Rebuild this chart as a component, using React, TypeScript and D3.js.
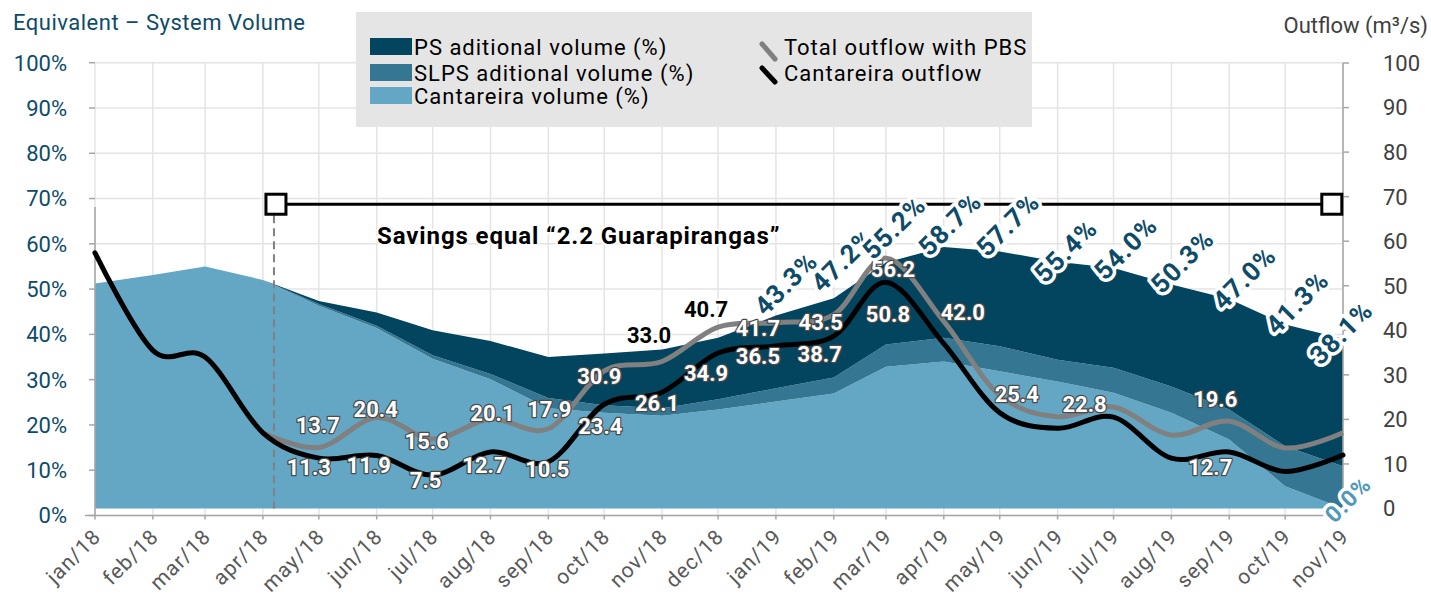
import React from "react";
import * as d3 from "d3";

// ---------------- DATA ----------------
const monthLabels = [
  "jan/18", "feb/18", "mar/18", "apr/18", "may/18", "jun/18", "jul/18", "aug/18",
  "sep/18", "oct/18", "nov/18", "dec/18", "jan/19", "feb/19", "mar/19", "apr/19",
  "may/19", "jun/19", "jul/19", "aug/19", "sep/19", "oct/19", "nov/19",
];
// Stacked volumes (% of equivalent system)
const cantareiraVolume = [50.5, 52.4, 54.3, 51.3, 45.5, 40.5, 33.6, 29.0, 22.5, 21.5, 20.8, 22.2, 24.0, 25.8, 31.8, 33.0, 30.8, 28.5, 26.0, 21.5, 15.5, 5.0, 0.0];
const slpsAdditionalVolume = [0, 0, 0, 0, 0.4, 0.5, 0.8, 1.2, 2.3, 1.7, 1.7, 2.3, 3.0, 3.6, 5.0, 5.3, 5.6, 4.9, 5.6, 5.9, 6.7, 9.0, 9.5];
const psAdditionalVolume = [0, 0, 0, 0, 0.7, 3.0, 5.6, 7.4, 9.2, 11.6, 13.2, 13.8, 16.3, 17.8, 18.4, 20.4, 21.3, 22.0, 22.4, 22.9, 24.8, 27.3, 28.6];
// Outflows (m³/s)
const cantareiraOutflow = [57.4, 35.5, 34.0, 17.0, 11.3, 11.9, 7.5, 12.7, 10.5, 23.4, 26.1, 34.9, 36.5, 38.7, 50.8, 37.0, 21.5, 18.0, 20.5, 11.3, 12.7, 8.3, 12.0];
const totalOutflowPBS: (number | null)[] = [null, null, null, 17.0, 13.7, 20.4, 15.6, 20.1, 17.9, 30.9, 33.0, 40.7, 41.7, 43.5, 56.2, 42.0, 25.4, 20.6, 22.8, 16.5, 19.6, 13.6, 17.0];
const leftTicks = [0, 10, 20, 30, 40, 50, 60, 70, 80, 90, 100];
const rightTicks = [0, 10, 20, 30, 40, 50, 60, 70, 80, 90, 100];
const savingsStartDate = new Date(2018, 3, 8);
const savingsEndDate = new Date(2019, 9, 26);
const savingsLevel = 68.3;
const savingsText = "Savings equal “2.2 Guarapirangas”";
const totalLabelMonths = [12, 13, 14, 15, 16, 17, 18, 19, 20, 21, 22];
const grayLabelMonths = [4, 5, 6, 7, 8, 9, 10, 11, 12, 13, 14, 15, 16, 18, 20];
const blackLabelMonths = [4, 5, 6, 7, 8, 9, 10, 11, 12, 13, 14, 20];

// ---------------- LAYOUT ----------------
const W = 1431, H = 597;
const X0 = 95, X1 = 1343;
const FONT = "Roboto, 'DejaVu Sans', sans-serif";
const C_PS = "#03445f";
const C_SLPS = "#357692";
const C_CANT = "#64a7c4";
const C_TEAL = "#0d4b69";

// label nudges (dx, dy) relative to the data point: [centre x offset, baseline offset]
const grayNudge: Record<number, [number, number]> = {
  4: [-1, -14], 5: [-1, -1], 6: [-6, 10], 7: [2, 2], 8: [1, -12], 9: [-5, 13],
  10: [-13, -18], 11: [-12, -10], 12: [-18, 13], 13: [-13, 15], 14: [7, 19],
  15: [19, -1], 16: [17, 7], 18: [-29, 5], 20: [-14, -14],
};
const blackNudge: Record<number, [number, number]> = {
  4: [-10, 17], 5: [-8, 18], 6: [-7, 13], 7: [-6, 21], 8: [-1, 15], 9: [-4, 30],
  10: [-5, 19], 11: [-12, 28], 12: [-18, 18], 13: [-14, 26], 14: [2, 40], 20: [-19, 23],
};
const totalNudge: Record<number, [number, number]> = {
  12: [10, -32], 13: [9, -38], 14: [8, -35], 15: [6, -23], 16: [8, -27], 17: [8, -11],
  18: [12, -20], 19: [11, -23], 20: [15, -21], 21: [12, -22], 22: [-2, -6],
};

export default function App() {
  const months = monthLabels.map((_, i) => new Date(2018, i, 1));
  const x = d3.scaleTime().domain([months[0], months[months.length - 1]]).range([X0, X1]);
  const yL = d3.scaleLinear().domain([0, 100]).range([515.5, 62.7]);
  const yR = d3.scaleLinear().domain([0, 100]).range([508.5, 63]);

  const rows = months.map((d, i) => ({
    date: d,
    cant: cantareiraVolume[i],
    slps: slpsAdditionalVolume[i],
    ps: psAdditionalVolume[i],
  }));
  const stack = d3.stack<any>().keys(["cant", "slps", "ps"]);
  const series = stack(rows);
  const area = d3
    .area<any>()
    .x((d) => x(d.data.date))
    .y0((d) => yR(d[0]))
    .y1((d) => yR(d[1]));
  const colors = [C_CANT, C_SLPS, C_PS];

  const curve = d3.curveCatmullRom.alpha(0);
  const lineGen = d3
    .line<[Date, number | null]>()
    .defined((d) => d[1] != null)
    .x((d) => x(d[0]))
    .y((d) => yR(d[1] as number))
    .curve(curve);
  const blackPts = months.map((d, i) => [d, cantareiraOutflow[i]] as [Date, number | null]);
  const grayPts = months.map((d, i) => [d, totalOutflowPBS[i]] as [Date, number | null]);

  const totals = months.map((_, i) => cantareiraVolume[i] + slpsAdditionalVolume[i] + psAdditionalVolume[i]);

  const sx0 = x(savingsStartDate);
  const sx1 = x(savingsEndDate);
  const sy = yR(savingsLevel);

  return (
    <svg
      width={W}
      height={H}
      style={{ position: "absolute", left: 0, top: 0, background: "#fff" }}
      fontFamily={FONT}
    >
      {/* grid */}
      <g stroke="#e4e4e4" strokeWidth={1.5}>
        {leftTicks.map((t) => (
          <line key={"h" + t} x1={X0} x2={X1} y1={yL(t)} y2={yL(t)} />
        ))}
        {months.map((m, i) => (
          <line key={"v" + i} x1={x(m)} x2={x(m)} y1={yL(100)} y2={yL(0)} />
        ))}
      </g>

      {/* stacked areas */}
      {series.map((s, i) => (
        <path key={s.key} d={area(s) || ""} fill={colors[i]} />
      ))}

      {/* axes */}
      <g stroke="#a6a6a6" strokeWidth={1.5}>
        <line x1={85} x2={X1} y1={yL(0)} y2={yL(0)} />
        <line x1={X0} x2={X0} y1={207} y2={yL(0)} />
        {leftTicks.map((t) => (
          <line key={"lt" + t} x1={89} x2={X0} y1={yL(t)} y2={yL(t)} />
        ))}
        {months.map((m, i) => (
          <line key={"xt" + i} x1={x(m)} x2={x(m)} y1={yL(0)} y2={yL(0) + 4} />
        ))}
        <line x1={X1} x2={X1} y1={yR(100)} y2={yL(0)} />
        {rightTicks.map((t) => (
          <line key={"rt" + t} x1={X1} x2={X1 + 6} y1={yR(t)} y2={yR(t)} />
        ))}
      </g>
      <g fill={C_TEAL} fontSize={22} textAnchor="end">
        {leftTicks.map((t) => (
          <text key={"ll" + t} x={67} y={yL(t)} dy="0.36em">
            {t}%
          </text>
        ))}
      </g>
      <g fill="#404040" fontSize={22} textAnchor="start">
        {rightTicks.map((t) => (
          <text key={"rl" + t} x={1383} y={yR(t)} dy="0.36em">
            {t}
          </text>
        ))}
      </g>
      <g fill="#595959" fontSize={21} letterSpacing={1} textAnchor="end">
        {months.map((m, i) => (
          <text key={"xl" + i} transform={`translate(${x(m) + 7},${538}) rotate(-45)`}>
            {monthLabels[i]}
          </text>
        ))}
      </g>

      {/* savings marker */}
      <line x1={sx0 - 2} x2={sx0 - 2} y1={sy + 11} y2={yR(0)} stroke="#808080" strokeWidth={2} strokeDasharray="8,5" />
      <line x1={sx0} x2={sx1} y1={sy} y2={sy} stroke="#000" strokeWidth={3} />
      <rect x={sx0 - 10} y={sy - 10} width={20} height={20} fill="#fff" stroke="#000" strokeWidth={3} />
      <rect x={sx1 - 10} y={sy - 10} width={20} height={20} fill="#fff" stroke="#000" strokeWidth={3} />
      <text
        x={377}
        y={244}
        fontSize={24}
        letterSpacing={0.9}
        fontWeight="bold"
        fill="#000"
        stroke="#fff"
        strokeWidth={4}
        paintOrder="stroke"
      >
        {savingsText}
      </text>

      {/* lines */}
      <path d={lineGen(grayPts) || ""} fill="none" stroke="#808080" strokeWidth={5} />
      <path d={lineGen(blackPts) || ""} fill="none" stroke="#000" strokeWidth={5} strokeLinecap="round" />

      {/* line labels */}
      <g fontSize={22} fontWeight="bold" textAnchor="middle" paintOrder="stroke" strokeLinejoin="round">
        {grayLabelMonths.map((i) => {
          const [dx, dy] = grayNudge[i];
          const dark = i === 10 || i === 11;
          return (
            <text
              key={"gl" + i}
              x={x(months[i]) + dx}
              y={yR(totalOutflowPBS[i] as number) + dy}
              fill={dark ? "#000" : "#fff"}
              stroke={dark ? "#fff" : "#4a4a4a"}
              strokeWidth={dark ? 4 : 2.5}
            >
              {(totalOutflowPBS[i] as number).toFixed(1)}
            </text>
          );
        })}
        {blackLabelMonths.map((i) => {
          const [dx, dy] = blackNudge[i];
          return (
            <text
              key={"bl" + i}
              x={x(months[i]) + dx}
              y={yR(cantareiraOutflow[i]) + dy}
              fill="#fff"
              stroke="#4a4a4a"
              strokeWidth={2.5}
            >
              {cantareiraOutflow[i].toFixed(1)}
            </text>
          );
        })}
      </g>

      {/* total volume labels */}
      <g fontSize={26} letterSpacing={1} fontWeight="bold" textAnchor="middle" paintOrder="stroke" stroke="#fff" strokeWidth={7} strokeLinejoin="round">
        {totalLabelMonths.map((i) => {
          const [dx, dy] = totalNudge[i];
          const cx = x(months[i]) + dx;
          const cy = yR(totals[i]) + dy;
          return (
            <text key={"tl" + i} transform={`translate(${cx},${cy}) rotate(-45)`} dy="0.35em" fill={C_TEAL}>
              {totals[i].toFixed(1)}%
            </text>
          );
        })}
        <text
          transform={`translate(${x(months[22]) + 5},${yR(cantareiraVolume[22]) - 9}) rotate(-45)`}
          dy="0.35em"
          fill="#4f98ba"
          fontSize={23}
        >
          {cantareiraVolume[22].toFixed(1)}%
        </text>
      </g>

      {/* legend */}
      <rect x={356} y={12} width={676} height={115} fill="#e5e5e5" />
      <g fontSize={22} letterSpacing={1} fill="#000">
        <rect x={370} y={38} width={42} height={17} fill={C_PS} />
        <text x={414} y={55}>PS aditional volume (%)</text>
        <rect x={370} y={64} width={42} height={17} fill={C_SLPS} />
        <text x={414} y={81}>SLPS aditional volume (%)</text>
        <rect x={370} y={87} width={42} height={17} fill={C_CANT} />
        <text x={414} y={104}>Cantareira volume (%)</text>
        <line x1={762} y1={44} x2={775} y2={59} stroke="#808080" strokeWidth={5} strokeLinecap="round" />
        <text x={784} y={55}>Total outflow with PBS</text>
        <line x1={762} y1={68} x2={775} y2={82} stroke="#000" strokeWidth={5} strokeLinecap="round" />
        <text x={784} y={81}>Cantareira outflow</text>
      </g>

      {/* titles */}
      <text x={13} y={30} fontSize={22} letterSpacing={0.5} fill={C_TEAL}>
        Equivalent – System Volume
      </text>
      <text x={1428} y={33} fontSize={22} fill="#404040" textAnchor="end">
        Outflow (m³/s)
      </text>
    </svg>
  );
}
